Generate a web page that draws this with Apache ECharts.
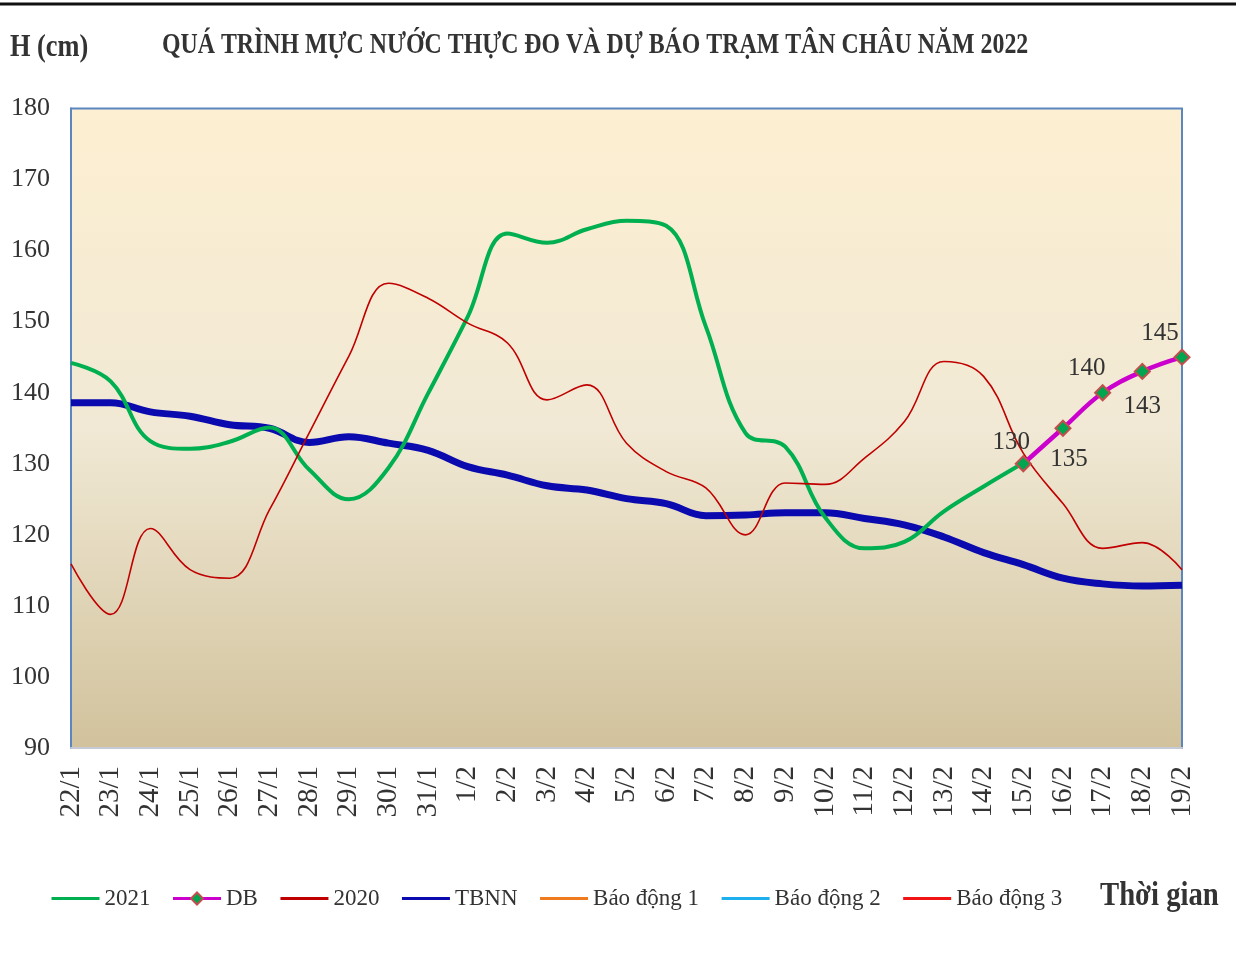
<!DOCTYPE html>
<html>
<head>
<meta charset="utf-8">
<script src="https://cdn.jsdelivr.net/npm/echarts@6/dist/echarts.min.js"></script>
<style>
  html, body { margin: 0; padding: 0; background: #fff; }
  #main { width: 1236px; height: 960px; }
</style>
</head>
<body>
<div id="main"></div>
<script>
var categories = ['22/1', '23/1', '24/1', '25/1', '26/1', '27/1', '28/1', '29/1', '30/1', '31/1',
  '1/2', '2/2', '3/2', '4/2', '5/2', '6/2', '7/2', '8/2', '9/2', '10/2',
  '11/2', '12/2', '13/2', '14/2', '15/2', '16/2', '17/2', '18/2', '19/2'];

// 2021 measured, 22/1 -> 15/2
var h2021 = [144.2, 141.6, 133.2, 132.1, 133.1, 135.1, 129.2, 125.0, 129.4, 139.9,
  150.7, 162.4, 161.1, 163.0, 164.2, 163.5, 149.3, 134.3, 132.4, 122.5,
  118.1, 119.0, 123.3, 126.8, 130.1];

// forecast, 15/2 -> 19/2
var dbStart = '15/2';
var hDB = [130, 135, 140, 143, 145];

var h2020 = [115.9, 108.8, 120.9, 115.1, 113.9, 123.5, 134.3, 145.1, 155.4, 153.3,
  149.8, 147.0, 139.0, 141.1, 132.9, 128.9, 126.6, 120.0, 127.3, 127.1,
  130.8, 135.9, 144.4, 142.3, 131.5, 124.4, 118.1, 118.9, 115.1];

var hTBNN = [138.6, 138.6, 137.3, 136.7, 135.5, 135.0, 133.0, 133.8, 132.9, 131.9,
  129.6, 128.4, 126.9, 126.3, 125.1, 124.4, 122.7, 122.8, 123.1, 123.1,
  122.3, 121.4, 119.7, 117.5, 115.8, 113.9, 113.1, 112.8, 112.9];

var yTicks = [90, 100, 110, 120, 130, 140, 150, 160, 170, 180];

var seriesNames = ['2021', 'DB', '2020', 'TBNN', 'Báo động 1', 'Báo động 2', 'Báo động 3'];

var serif = 'Liberation Serif';

// label placement around the forecast diamonds
var dbLabelOffsets = [[-12, 6], [6, 4], [-16, 3], [0, 8], [-22, 3]];
var dbLabelPos = ['top', 'bottom', 'top', 'bottom', 'top'];

var i0 = categories.indexOf(dbStart);
var dbData = [];
for (var i = 0; i < categories.length; i++) {
  if (i < i0) {
    dbData.push('-');
  } else {
    var k = i - i0;
    dbData.push({
      value: hDB[k],
      label: { position: dbLabelPos[k], offset: dbLabelOffsets[k] }
    });
  }
}

// legend: plain lines except the forecast which keeps its diamond
var legendData = seriesNames.map(function (n) {
  return n === 'DB' ? n : { name: n, itemStyle: { opacity: 0 } };
});

var chart = echarts.init(document.getElementById('main'));
var option = {
  backgroundColor: '#ffffff',
  animation: false,
  graphic: [
    { type: 'line', shape: { x1: 0, y1: 4, x2: 1236, y2: 4 }, style: { stroke: '#111', lineWidth: 3 } },
    {
      type: 'text', x: 162, y: 45, scaleX: 0.795,
      style: {
        text: 'QUÁ TRÌNH MỰC NƯỚC THỰC ĐO VÀ DỰ BÁO TRẠM TÂN CHÂU NĂM 2022',
        font: 'bold 30px "Liberation Serif"', fill: '#333', verticalAlign: 'middle'
      }
    },
    {
      type: 'text', x: 10, y: 48, scaleX: 0.85,
      style: { text: 'H (cm)', font: 'bold 31px "Liberation Serif"', fill: '#333', verticalAlign: 'middle' }
    },
    {
      type: 'text', x: 1100, y: 896, scaleX: 0.87,
      style: { text: 'Thời gian', font: 'bold 33px "Liberation Serif"', fill: '#333', verticalAlign: 'middle' }
    }
  ],
  legend: {
    left: 45,
    top: 882,
    itemWidth: 48,
    itemHeight: 15,
    itemGap: 21,
    textStyle: { fontFamily: serif, fontSize: 23, color: '#333' },
    lineStyle: { width: 3 },
    data: legendData
  },
  grid: {
    left: 71,
    right: 54,
    top: 108.5,
    bottom: 212,
    show: true,
    borderColor: '#5B86C0',
    borderWidth: 2,
    backgroundColor: {
      type: 'linear', x: 0, y: 0, x2: 0, y2: 1,
      colorStops: [
        { offset: 0, color: '#FDEFD1' },
        { offset: 0.5, color: '#F1E9D5' },
        { offset: 1, color: '#D1C29C' }
      ]
    }
  },
  xAxis: {
    type: 'category',
    data: categories,
    boundaryGap: false,
    axisLine: { show: true, lineStyle: { color: '#C6CAD6', width: 2 } },
    axisTick: { show: false },
    axisLabel: { interval: 0, rotate: 90, margin: 18, fontFamily: serif, fontSize: 29, color: '#333' },
    splitLine: { show: false }
  },
  yAxis: {
    type: 'value',
    min: yTicks[0],
    max: yTicks[yTicks.length - 1],
    interval: 10,
    axisLine: { show: true, lineStyle: { color: '#5B86C0', width: 2 } },
    axisTick: { show: false },
    axisLabel: { margin: 21, fontFamily: serif, fontSize: 26, color: '#333' },
    splitLine: { show: false }
  },
  series: [
    {
      name: '2021', type: 'line', data: h2021, smooth: 0.4, symbol: 'none',
      itemStyle: { color: '#00B050' },
      lineStyle: { color: '#00B050', width: 4 }, z: 3
    },
    {
      name: 'DB', type: 'line', data: dbData, smooth: 0.4,
      symbol: 'diamond', symbolSize: 15,
      itemStyle: { color: '#00A550', borderColor: '#C0504D', borderWidth: 2 },
      lineStyle: { color: '#CC00CC', width: 4.5 },
      label: { show: true, fontFamily: serif, fontSize: 25, color: '#333', distance: 6 },
      z: 5
    },
    {
      name: '2020', type: 'line', data: h2020, smooth: 0.4, symbol: 'none',
      itemStyle: { color: '#C00000' },
      lineStyle: { color: '#C00000', width: 1.6 }, z: 4
    },
    {
      name: 'TBNN', type: 'line', data: hTBNN, smooth: 0.4, symbol: 'none',
      itemStyle: { color: '#0A0AAE' },
      lineStyle: { color: '#0A0AAE', width: 7 }, z: 2
    },
    { name: 'Báo động 1', type: 'line', data: [], symbol: 'none', itemStyle: { color: '#F07A1E' }, lineStyle: { color: '#F07A1E', width: 2 } },
    { name: 'Báo động 2', type: 'line', data: [], symbol: 'none', itemStyle: { color: '#1EB0EE' }, lineStyle: { color: '#1EB0EE', width: 2 } },
    { name: 'Báo động 3', type: 'line', data: [], symbol: 'none', itemStyle: { color: '#F01414' }, lineStyle: { color: '#F01414', width: 2 } }
  ]
};
chart.setOption(option);
</script>
</body>
</html>
